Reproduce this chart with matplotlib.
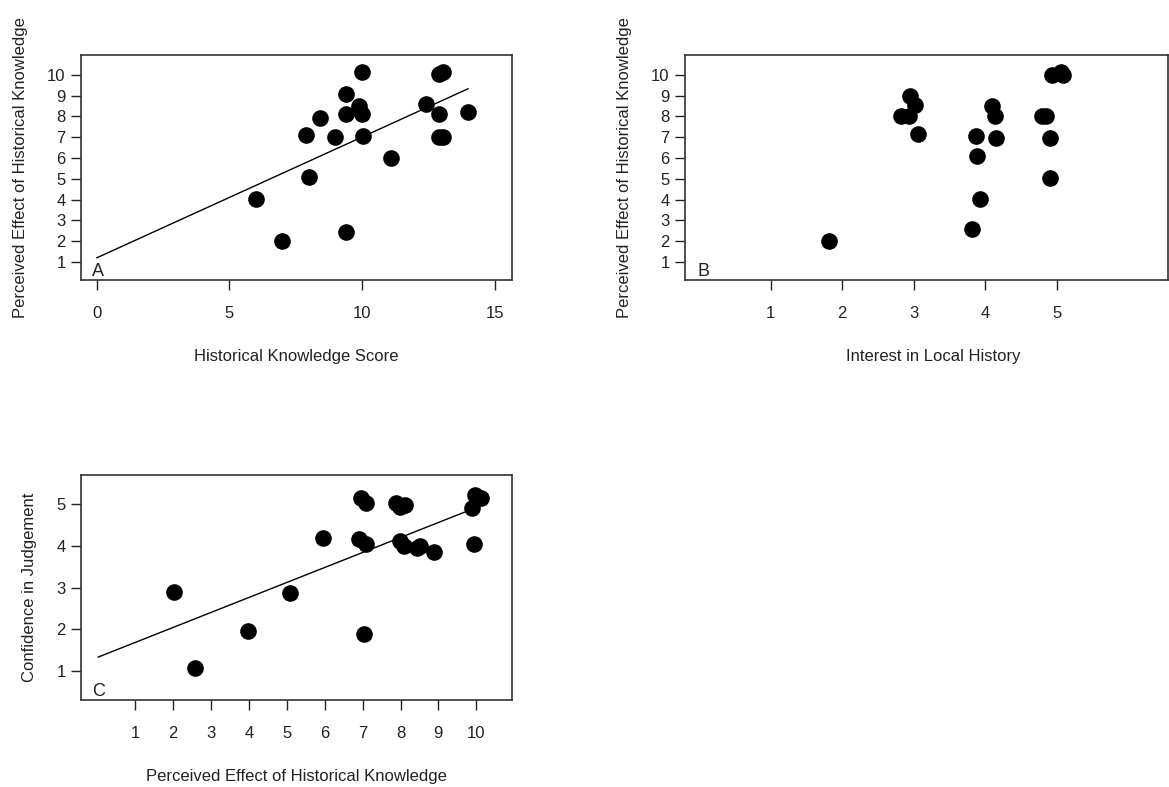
import numpy as np
import matplotlib
matplotlib.use("Agg")
import matplotlib.pyplot as plt

plt.rcParams['font.family'] = ['Liberation Sans', 'DejaVu Sans']

# data ===========================================================
# panel A: knowledge score vs perceived effect
a_x = [6.0, 7.0, 7.9, 8.0, 8.4, 9.0, 9.4, 9.4, 9.4, 10.0, 9.9, 10.0, 10.05,
       11.1, 12.4, 12.9, 13.05, 12.9, 12.9, 13.05, 14.0]
a_y = [4.05, 2.0, 7.1, 5.1, 7.95, 7.0, 9.1, 8.1, 2.45, 10.15, 8.5, 8.1, 7.05,
       6.0, 8.6, 10.05, 10.15, 8.1, 7.0, 7.0, 8.2]
a_fit = (1.2, 0.581)       # intercept, slope
a_fit_range = (0, 14)

# panel B: interest in local history vs perceived effect
b_x = [1.82, 2.83, 2.94, 2.95, 3.02, 3.06, 3.81, 3.87, 3.89, 3.93, 4.10, 4.14,
       4.15, 4.79, 4.85, 4.91, 4.91, 4.93, 5.06, 5.09]
b_y = [2.03, 8.03, 8.03, 9.0, 8.56, 7.14, 2.59, 7.08, 6.12, 4.02, 8.51, 8.03,
       6.95, 8.03, 8.03, 6.95, 5.03, 10.0, 10.16, 10.0]

# panel C: perceived effect vs confidence in judgement
c_x = [2.03, 2.58, 3.99, 5.09, 5.95, 6.91, 6.96, 7.09, 7.09, 7.04, 7.89, 7.99,
       8.11, 7.99, 8.08, 8.43, 8.52, 8.89, 9.89, 9.93, 9.97, 10.11]
c_y = [2.90, 1.06, 1.96, 2.87, 4.19, 4.16, 5.14, 5.04, 4.05, 1.89, 5.02, 4.94,
       4.98, 4.11, 4.0, 3.96, 4.0, 3.86, 4.90, 4.05, 5.22, 5.14]
c_fit = (1.32, 0.36)
c_fit_range = (0.03, 9.9)
# ================================================================

W, H = 1169, 787
FS = 12
fig = plt.figure(figsize=(W / 100, H / 100), dpi=100)


def make_axes(left, top, right, bottom):
    return fig.add_axes([left / W, 1 - bottom / H, (right - left) / W, (bottom - top) / H])


def style(ax, xlabel, ylabel, xticks, yticks, xlim, ylim, letter):
    ax.set_xlim(*xlim)
    ax.set_ylim(*ylim)
    ax.set_xticks(xticks)
    ax.set_yticks(yticks)
    ax.tick_params(direction='out', length=7, width=1, color='#222222',
                   labelsize=FS, labelcolor='#222222')
    ax.tick_params(axis='x', pad=12)
    ax.tick_params(axis='y', pad=4)
    for s in ax.spines.values():
        s.set_color('#333333')
        s.set_linewidth(1.2)
    ax.set_xlabel(xlabel, fontsize=FS, color='#222222', labelpad=20)
    ax.set_ylabel(ylabel, fontsize=FS, color='#222222', labelpad=14)
    ax.text(0.026, 0.0, letter, transform=ax.transAxes, fontsize=FS + 1,
            color='#222222', ha='left', va='bottom')


# panel A
ax1 = make_axes(81, 55, 512, 280)
ax1.scatter(a_x, a_y, s=120, color='black', zorder=3)
xs = np.array(a_fit_range)
ax1.plot(xs, a_fit[0] + a_fit[1] * xs, color='black', lw=1)
style(ax1, "Historical Knowledge Score", "Perceived Effect of Historical Knowledge",
      [0, 5, 10, 15], range(1, 11), (-0.6, 15.66), (0.13, 10.96), "A")

# panel B (cropped at the right edge)
ax2 = make_axes(685, 55, 1168, 280)
ax2.scatter(b_x, b_y, s=120, color='black', zorder=3)
style(ax2, "Interest in Local History", "Perceived Effect of Historical Knowledge",
      [1, 2, 3, 4, 5], range(1, 11), (-0.2, 6.56), (0.13, 10.96), "B")
ax2.xaxis.label.set_x((933 - 685) / (1168 - 685))

# panel C
ax3 = make_axes(81, 475, 512, 700)
ax3.scatter(c_x, c_y, s=120, color='black', zorder=3)
xs = np.array(c_fit_range)
ax3.plot(xs, c_fit[0] + c_fit[1] * xs, color='black', lw=1)
style(ax3, "Perceived Effect of Historical Knowledge", "Confidence in Judgement",
      range(1, 11), range(1, 6), (-0.425, 10.94), (0.3, 5.7), "C")

fig.savefig("out.png", dpi=100)
